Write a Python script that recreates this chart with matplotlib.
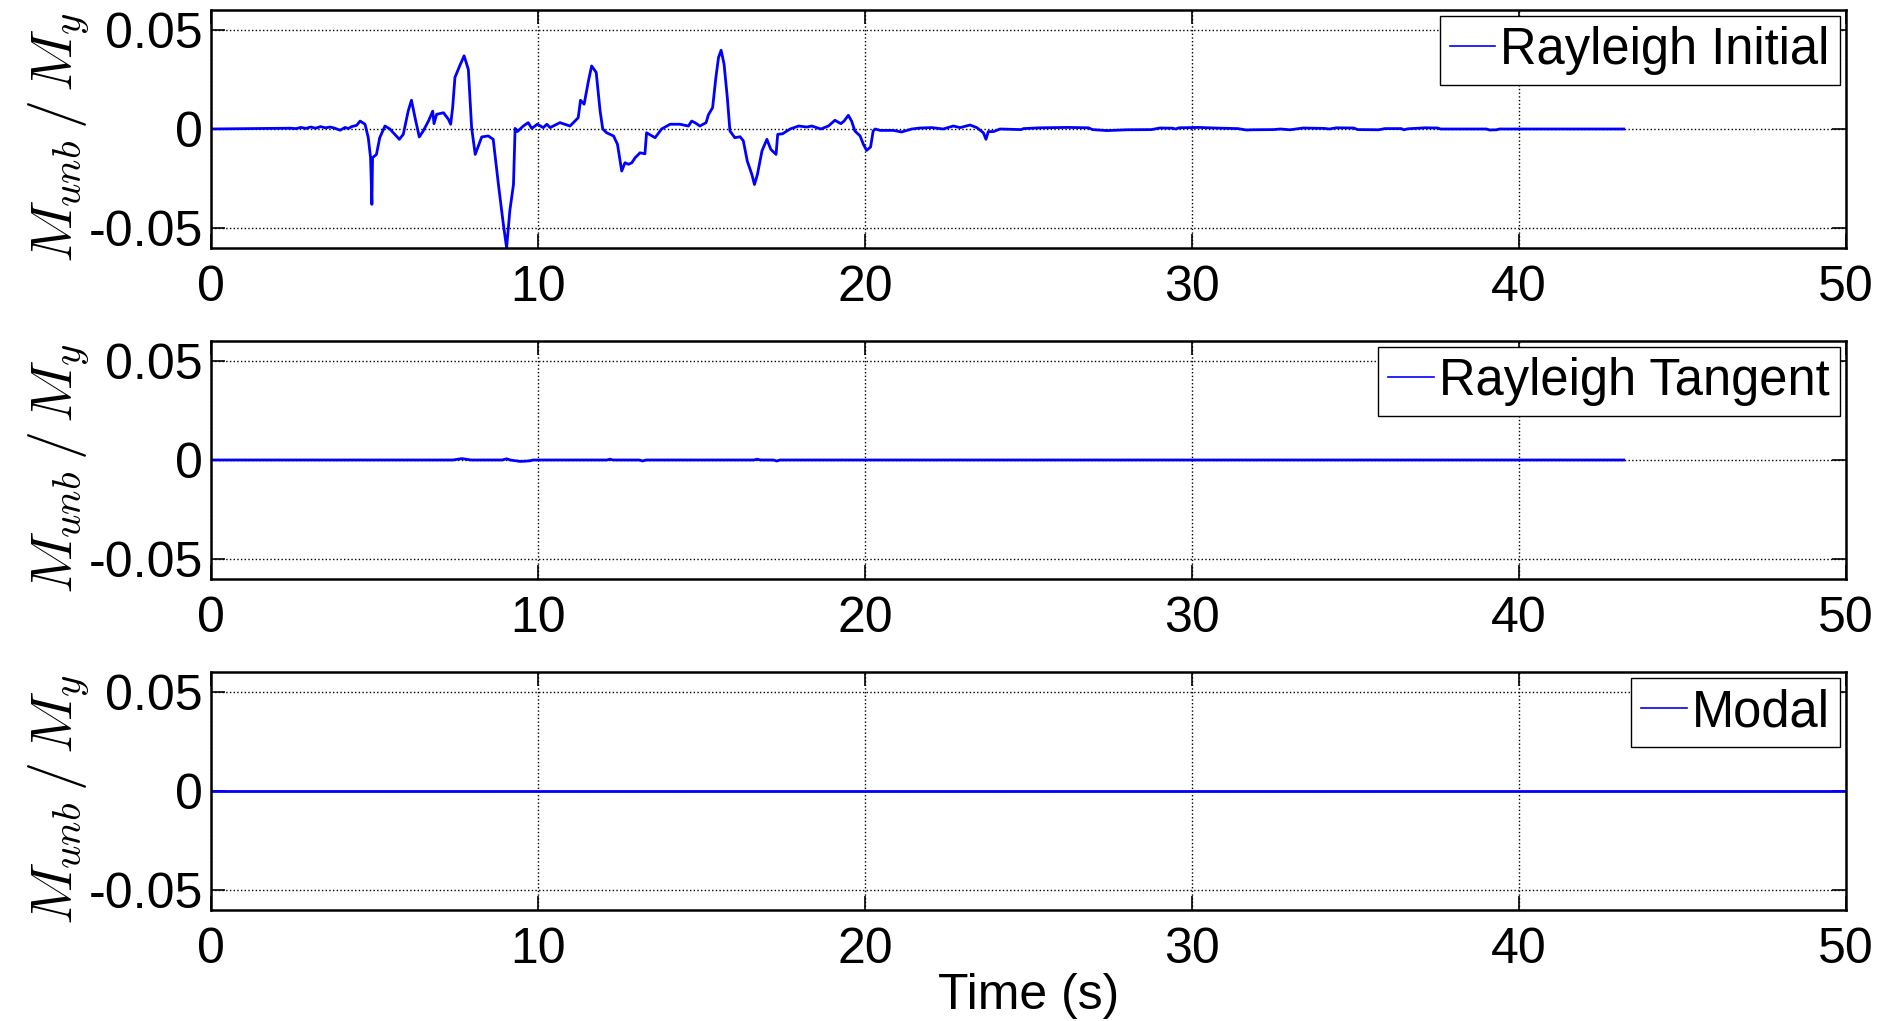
import matplotlib
matplotlib.use('Agg')
import matplotlib.pyplot as plt
import numpy as np

plt.rcParams['font.family'] = ['Liberation Sans', 'DejaVu Sans']
plt.rcParams['mathtext.fontset'] = 'cm'
plt.rcParams['axes.unicode_minus'] = False

# ---------------- data ----------------
# Panel 1: Rayleigh Initial
t_init = [0.0, 2.42, 2.6, 2.75, 2.9, 3.05, 3.2, 3.35, 3.5, 3.65, 3.8, 3.95, 4.1, 4.2, 4.3, 4.45,
          4.56, 4.71, 4.81, 4.88, 4.92, 4.94, 5.06, 5.16, 5.32, 5.47, 5.76, 5.88, 6.03, 6.13,
          6.24, 6.37, 6.49, 6.65, 6.78, 6.82, 6.90, 7.11, 7.26, 7.33, 7.39, 7.46, 7.61,
          7.74, 7.87, 7.97, 8.08, 8.28, 8.48, 8.63, 8.79, 8.94, 9.04, 9.14, 9.25, 9.30,
          9.37, 9.55, 9.70, 9.81, 9.98, 10.16, 10.27, 10.37, 10.67, 10.98, 11.23, 11.30,
          11.41, 11.54, 11.64, 11.78, 11.90, 11.98, 12.10, 12.31, 12.43, 12.56, 12.66,
          12.77, 12.87, 12.97, 13.12, 13.27, 13.32, 13.58, 13.78, 14.04, 14.34, 14.60,
          14.70, 14.80, 14.95, 15.14, 15.21, 15.34, 15.44, 15.52, 15.60, 15.69, 15.79,
          15.87, 16.02, 16.18, 16.28, 16.40, 16.54, 16.62, 16.71, 16.85, 17.00, 17.12,
          17.28, 17.33, 17.48, 17.71, 17.97, 18.22, 18.37, 18.65, 18.88, 19.08, 19.26,
          19.36, 19.49, 19.59, 19.69, 19.85, 19.95, 20.05, 20.17, 20.25, 20.31, 20.46,
          20.87, 21.12, 21.43, 21.68, 22.04, 22.39, 22.70, 22.91, 23.21, 23.42, 23.62,
          23.70, 23.77, 23.93, 24.13, 24.77, 24.85, 25.35, 26.2, 26.83, 26.96, 27.4,
          28.0, 28.76, 29.02, 29.41, 29.5, 29.6, 30.2, 30.69, 31.4, 31.66, 31.85, 32.49,
          32.7, 33.0, 33.4, 34.04, 34.2, 34.42, 34.94, 35.07, 35.71, 35.9, 36.4, 36.48,
          36.6, 37.13, 37.51, 37.6, 39.0, 39.1, 39.32, 39.4, 43.2]
v_init = [0.0, 0.0004, 0.0002, 0.0008, 0.0003, 0.0010, 0.0004, 0.0012, 0.0006, 0.0010, 0.0003,
          -0.0006, 0.0008, 0.0002, 0.0012, 0.0018,
          0.0040, 0.0024, -0.0044, -0.0145, -0.0380, -0.0145, -0.0128, -0.0044, 0.0015, 0.0,
          -0.0052, -0.0027, 0.0090, 0.0145, 0.0057, -0.0040, -0.0010, 0.0040, 0.0090,
          0.0027, 0.0074, 0.0082, 0.0049, 0.0024, 0.0108, 0.0260, 0.0320,
          0.0369, 0.0300, 0.0007, -0.0128, -0.0040, -0.0035, -0.0052, -0.0280, -0.0480,
          -0.0600, -0.0410, -0.0280, 0.0003, -0.0013, 0.0015, 0.0032, 0.0003, 0.0024,
          0.0007, 0.0024, 0.0007, 0.0032, 0.0015, 0.0057, 0.0145, 0.0125, 0.0240, 0.0318,
          0.0285, 0.0090, 0.0, -0.0019, -0.0035, -0.0077, -0.0212, -0.0170, -0.0178,
          -0.0170, -0.0145, -0.0120, -0.0125, -0.0019, -0.0044, 0.0, 0.0024, 0.0024,
          0.0015, 0.0040, 0.0032, 0.0015, 0.0032, 0.0071, 0.0108, 0.0260, 0.0360, 0.0397,
          0.0327, 0.0158, -0.0010, -0.0044, -0.0039, -0.0060, -0.0162, -0.0229, -0.0280,
          -0.0229, -0.0110, -0.0052, -0.0103, -0.0128, -0.0027, -0.0024, 0.0, 0.0015,
          0.0010, 0.0015, 0.0, 0.0015, 0.0044, 0.0027, 0.0040, 0.0069, 0.0040, -0.0010,
          -0.0035, -0.0077, -0.0108, -0.0091, -0.0010, 0.0, -0.0007, -0.0007, -0.0015,
          0.0, 0.0005, 0.0007, 0.0, 0.0015, 0.0007, 0.0020, 0.0007, -0.0019, -0.0052,
          -0.0013, -0.0013, 0.0, -0.0003, 0.0002, 0.0006, 0.0008, 0.0006, -0.0003,
          -0.0008, -0.0004, -0.0003, 0.0005, 0.0004, 0.0, 0.0006, 0.0008, 0.0005, 0.0002,
          -0.0005, -0.0004, -0.0003, 0.0, -0.0004, 0.0005, 0.0003, 0.0, 0.0006, 0.0005,
          -0.0003, -0.0004, 0.0002, 0.0002, -0.0004, 0.0001, 0.0006, 0.0005, 0.0, 0.0,
          -0.0005, -0.0004, 0.0, 0.0]

# Panel 2: Rayleigh Tangent
t_tan = [0.0, 7.4, 7.55, 7.67, 7.8, 7.95, 8.9, 9.04, 9.15, 9.45, 9.6, 9.75, 9.85, 12.1, 12.2,
         12.3, 13.1, 13.2, 13.3, 16.6, 16.7, 16.8, 17.2, 17.3, 17.4, 43.2]
v_tan = [0.0, 0.0, 0.0004, 0.0007, 0.0004, 0.0, 0.0, 0.0006, 0.0, -0.0007, -0.0006, -0.0004,
         0.0, 0.0, 0.0004, 0.0, 0.0, -0.0005, 0.0, 0.0, 0.0004, 0.0, 0.0, -0.0005, 0.0, 0.0]

# Panel 3: Modal
t_modal = [0.0, 50.0]
v_modal = [0.0, 0.0]

series = [(t_init, v_init, 'Rayleigh Initial'),
          (t_tan, v_tan, 'Rayleigh Tangent'),
          (t_modal, v_modal, 'Modal')]

xticks = [0, 10, 20, 30, 40, 50]
yticks = [-0.05, 0, 0.05]
yticklabels = ['-0.05', '0', '0.05']

# ---------------- figure ----------------
W, H = 1888, 1021
fig = plt.figure(figsize=(W / 100, H / 100), dpi=100)
left_px, right_px = 211, 1846
tops = [10, 341, 672]
height_px = 238

for i, (t, v, lab) in enumerate(series):
    top = tops[i]
    ax = fig.add_axes([left_px / W, 1 - (top + height_px) / H,
                       (right_px - left_px) / W, height_px / H])
    ax.plot(t, v, color='#0000ff', lw=2.0, label=lab)
    ax.set_xlim(0, 50)
    ax.set_ylim(-0.06, 0.06)
    ax.set_xticks(xticks)
    ax.set_xticklabels([str(x) for x in xticks])
    ax.set_yticks(yticks)
    ax.set_yticklabels(yticklabels)
    ax.grid(True, linestyle=':', color='black', linewidth=1.0)
    ax.tick_params(direction='in', top=True, right=True, length=10, width=1.2,
                   labelsize=36)
    ax.tick_params(axis='y', pad=6)
    ax.tick_params(axis='x', pad=12)
    for s in ax.spines.values():
        s.set_linewidth(1.8)
    ax.set_ylabel(r'$M_{unb}\,/\,M_y$', fontsize=42)
    ax.yaxis.set_label_coords(-0.073, 0.465)
    leg = ax.legend(loc='upper right', fontsize=36.5, fancybox=False, framealpha=1,
                    edgecolor='black', borderaxespad=0.12, handlelength=0.9,
                    handletextpad=0.1, borderpad=0.2)
    leg.get_frame().set_linewidth(1.0)
    for ln in leg.get_lines():
        ln.set_linewidth(1.2)
    if i == 2:
        ax.set_xlabel('Time (s)', fontsize=36, labelpad=0)

fig.savefig('out.png', dpi=100)
